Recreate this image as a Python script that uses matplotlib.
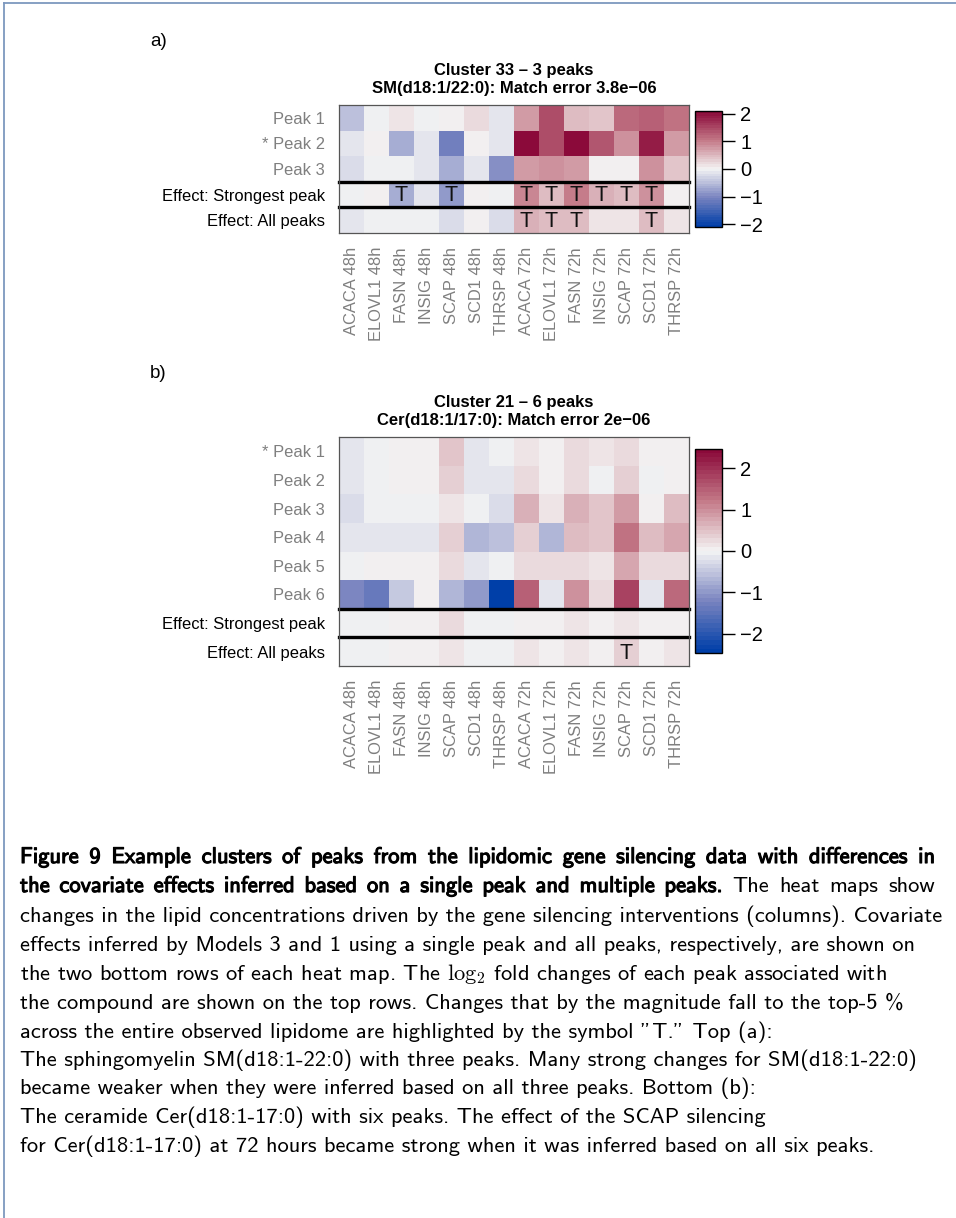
import numpy as np
import matplotlib
matplotlib.use("Agg")
import matplotlib.pyplot as plt
from matplotlib.colors import LinearSegmentedColormap, ListedColormap
from matplotlib import patheffects as pe

# ---------------------------------------------------------------- data
conditions = ["ACACA 48h", "ELOVL1 48h", "FASN 48h", "INSIG 48h", "SCAP 48h",
              "SCD1 48h", "THRSP 48h", "ACACA 72h", "ELOVL1 72h", "FASN 72h",
              "INSIG 72h", "SCAP 72h", "SCD1 72h", "THRSP 72h"]

# Cluster 33: SM(d18:1/22:0)
rows_a = ["Peak 1", "* Peak 2", "Peak 3", "Effect: Strongest peak", "Effect: All peaks"]
a_peak1 = [-0.45, -0.05, 0.10, -0.04, 0.02, 0.25, -0.15, 0.78, 1.45, 0.50, 0.38, 1.15, 1.30, 1.05]
a_peak2 = [-0.12, 0.03, -0.65, -0.10, -1.07, 0.00, -0.15, 2.10, 1.45, 2.10, 1.35, 0.85, 1.90, 0.70]
a_peak3 = [-0.20, -0.05, -0.08, -0.10, -0.65, -0.12, -0.88, 0.70, 0.80, 0.75, 0.08, 0.00, 0.82, 0.35]
a_strongest = [-0.08, 0.02, -0.65, -0.15, -0.80, 0.00, -0.08, 0.90, 0.50, 1.00, 0.55, 0.52, 0.80, 0.03]
a_all = [-0.12, -0.05, -0.05, -0.05, -0.20, 0.03, -0.22, 0.55, 0.50, 0.50, 0.10, 0.15, 0.50, 0.15]
a_top5_strongest = ["FASN 48h", "SCAP 48h", "ACACA 72h", "ELOVL1 72h", "FASN 72h",
                    "INSIG 72h", "SCAP 72h", "SCD1 72h"]
a_top5_all = ["ACACA 72h", "ELOVL1 72h", "FASN 72h", "SCD1 72h"]
a_limit = 2.1

# Cluster 21: Cer(d18:1/17:0)
rows_b = ["* Peak 1", "Peak 2", "Peak 3", "Peak 4", "Peak 5", "Peak 6",
          "Effect: Strongest peak", "Effect: All peaks"]
b_peak1 = [-0.18, -0.07, 0.02, 0.02, 0.50, -0.18, -0.08, 0.20, 0.00, 0.25, 0.12, 0.30, 0.08, 0.08]
b_peak2 = [-0.18, -0.10, 0.01, 0.01, 0.40, -0.20, -0.20, 0.25, 0.08, 0.25, -0.03, 0.38, -0.10, 0.06]
b_peak3 = [-0.30, -0.08, -0.08, -0.05, 0.15, -0.08, -0.25, 0.65, 0.15, 0.68, 0.45, 0.85, 0.00, 0.52]
b_peak4 = [-0.15, -0.15, -0.20, -0.15, 0.40, -0.63, -0.58, 0.40, -0.63, 0.55, 0.42, 1.25, 0.55, 0.75]
b_peak5 = [-0.04, 0.00, 0.04, 0.00, 0.30, -0.15, -0.10, 0.30, 0.22, 0.28, 0.12, 0.75, 0.25, 0.22]
b_peak6 = [-1.18, -1.40, -0.45, 0.02, -0.70, -0.95, -2.47, 1.45, -0.18, 0.95, 0.25, 1.75, -0.18, 1.40]
b_strongest = [-0.06, -0.05, 0.00, 0.00, 0.25, -0.10, -0.06, 0.06, 0.00, 0.12, 0.03, 0.15, 0.04, 0.04]
b_all = [-0.04, -0.04, 0.00, 0.00, 0.12, -0.07, -0.10, 0.18, 0.00, 0.18, 0.00, 0.32, 0.08, 0.15]
b_top5_strongest = []
b_top5_all = ["SCAP 72h"]
b_limit = 2.47

# ---------------------------------------------------------------- figure
W, H = 956, 1218
fig = plt.figure(figsize=(W / 100, H / 100), dpi=100)
fig.patch.set_facecolor("white")
plt.rcParams["mathtext.fontset"] = "cm"


def fx(x):
    return x / W


def fy(y):
    return 1 - y / H


def box(x0, y0, x1, y1):
    return [fx(x0), fy(y1), fx(x1) - fx(x0), fy(y0) - fy(y1)]


base = LinearSegmentedColormap.from_list(
    "bwr_lipid",
    [(0.0, "#003fa8"), (0.25, "#7a84c0"), (0.5, "#f4f4f4"),
     (0.75, "#c47a88"), (1.0, "#8b0a3a")])
cmap = ListedColormap(base(np.linspace(0, 1, 48)))

sans = ["Liberation Sans", "DejaVu Sans"]
GRAY = "#7f7f7f"
LABEL_SIZE = 11.9


def heatmap(rect, crect, rows, labels, n_peaks, limit, flags, titles, tag, tag_y):
    ax = fig.add_axes(rect)
    cax = fig.add_axes(crect)
    data = np.array(rows)
    nr, nc = data.shape
    mesh = ax.pcolormesh(np.arange(nc + 1), np.arange(nr + 1), data,
                         cmap=cmap, vmin=-limit, vmax=limit)
    ax.set_xlim(0, nc)
    ax.set_ylim(nr, 0)
    for s in ax.spines.values():
        s.set_color("#555555")
        s.set_linewidth(0.9)
    for yy in (n_peaks, n_peaks + 1):
        ax.axhline(yy, color="black", lw=2.4, clip_on=False)
    ax.set_xticks(np.arange(nc) + 0.5)
    ax.set_xticklabels(conditions, rotation=90, color=GRAY, fontsize=LABEL_SIZE,
                       family=sans)
    ax.set_yticks(np.arange(nr) + 0.5)
    ax.set_yticklabels(labels, fontsize=LABEL_SIZE, family=sans)
    for i, t in enumerate(ax.get_yticklabels()):
        t.set_color(GRAY if i < n_peaks else "black")
    ax.tick_params(length=0, pad=10)
    for r_off, names in enumerate(flags):
        for name in names:
            j = conditions.index(name)
            ax.text(j + 0.5, n_peaks + r_off + 0.55, "T", ha="center",
                    va="center", fontsize=15.5, family=sans, color="#111111")
    cb = fig.colorbar(mesh, cax=cax, ticks=[-2, -1, 0, 1, 2])
    cb.outline.set_edgecolor("black")
    cb.outline.set_linewidth(1.0)
    cax.tick_params(length=9, width=1.0, labelsize=14.5, pad=4)
    cax.set_yticklabels(["\u22122", "\u22121", "0", "1", "2"], family=sans)
    cx = rect[0] + rect[2] / 2
    fig.text(cx, fy(titles[2]), titles[0], ha="center", va="center",
             fontsize=12, fontweight="bold", family=sans)
    fig.text(cx, fy(titles[2] + 18), titles[1], ha="center", va="center",
             fontsize=12, fontweight="bold", family=sans)
    fig.text(fx(150), fy(tag_y), tag + ")", ha="left", va="center",
             fontsize=13.5, family=sans)


heatmap(box(339, 105, 689, 233), box(695, 111, 722, 227),
        [a_peak1, a_peak2, a_peak3, a_strongest, a_all], rows_a, 3, a_limit,
        [a_top5_strongest, a_top5_all],
        ("Cluster 33 \u2013 3 peaks", "SM(d18:1/22:0): Match error 3.8e\u221206", 70),
        "a", 42)

heatmap(box(339, 437, 689, 666), box(695, 449, 722, 653),
        [b_peak1, b_peak2, b_peak3, b_peak4, b_peak5, b_peak6, b_strongest, b_all],
        rows_b, 6, b_limit, [b_top5_strongest, b_top5_all],
        ("Cluster 21 \u2013 6 peaks", "Cer(d18:1/17:0): Match error 2e\u221206", 403),
        "b", 373)

# ---------------------------------------------------------------- frame
frame_col = "#7d98be"
fig.add_artist(plt.Line2D([fx(4), fx(4)], [fy(3), 0], color=frame_col, lw=1.3))
fig.add_artist(plt.Line2D([fx(4), 1], [fy(3), fy(3)], color=frame_col, lw=1.3))

# ---------------------------------------------------------------- caption
cap_font = "cmss10"
cap_size = 16.2
bold_fx = [pe.withStroke(linewidth=0.8, foreground="black")]
CAP_LEFT, CAP_RIGHT = 20, 935

# (bold part, regular part, justified)
caption = [
    ("Figure 9 Example clusters of peaks from the lipidomic gene silencing data with differences in", "", True),
    ("the covariate effects inferred based on a single peak and multiple peaks.", "The heat maps show", True),
    ("", "changes in the lipid concentrations driven by the gene silencing interventions (columns). Covariate", False),
    ("", "effects inferred by Models 3 and 1 using a single peak and all peaks, respectively, are shown on", False),
    ("", r"the two bottom rows of each heat map. The $\mathrm{log}_2$ fold changes of each peak associated with", False),
    ("", "the compound are shown on the top rows. Changes that by the magnitude fall to the top-5 %", False),
    ("", "across the entire observed lipidome are highlighted by the symbol \"T.\" Top (a):", False),
    ("", "The sphingomyelin SM(d18:1-22:0) with three peaks. Many strong changes for SM(d18:1-22:0)", False),
    ("", "became weaker when they were inferred based on all three peaks. Bottom (b):", False),
    ("", "The ceramide Cer(d18:1-17:0) with six peaks. The effect of the SCAP silencing", False),
    ("", "for Cer(d18:1-17:0) at 72 hours became strong when it was inferred based on all six peaks.", False),
]
line_y = [858, 887, 917, 946, 975, 1004, 1033, 1061, 1089, 1118, 1147, 1175]

renderer = fig.canvas.get_renderer()


def caption_text(x, yy, s, bold):
    kw = dict(ha="left", va="baseline", fontsize=cap_size, family=cap_font,
              color="black")
    if bold:
        kw["path_effects"] = bold_fx
    return fig.text(fx(x), fy(yy + 5), s, **kw)


for (bold, regular, justify), yy in zip(caption, line_y):
    if justify:
        words = [(w, True) for w in bold.split()] + [(w, False) for w in regular.split()]
        arts = [caption_text(0, yy, w, b) for w, b in words]
        widths = [a.get_window_extent(renderer).width for a in arts]
        gap = (CAP_RIGHT - CAP_LEFT - sum(widths)) / (len(words) - 1)
        x = CAP_LEFT
        for a, w in zip(arts, widths):
            a.set_x(fx(x))
            x += w + gap
    else:
        caption_text(CAP_LEFT, yy, regular, False)

fig.savefig("out.png", dpi=100)
